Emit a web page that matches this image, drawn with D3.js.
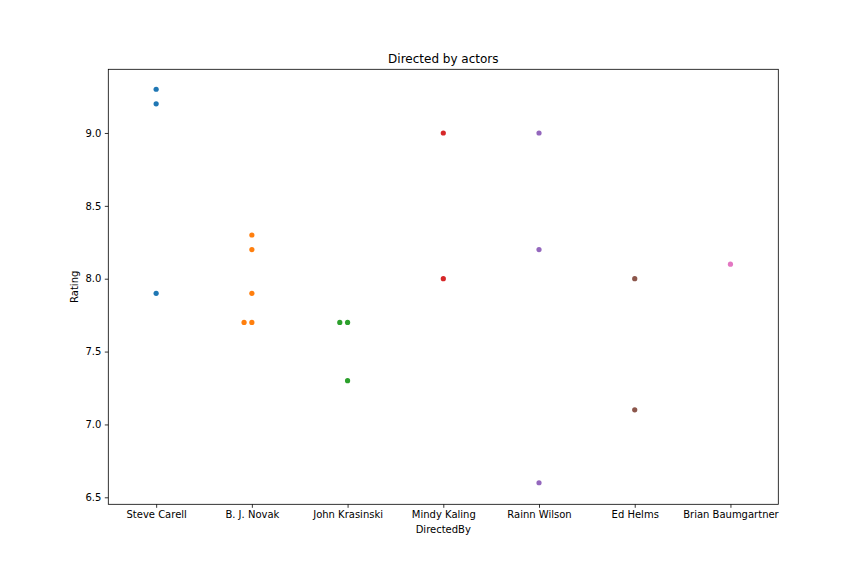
<!DOCTYPE html>
<html><head><meta charset="utf-8">
<script src="https://cdn.jsdelivr.net/npm/d3@7"></script>
<style>body{margin:0;background:#fff}svg{display:block}text{font-family:"DejaVu Sans",sans-serif;fill:#000}</style>
</head><body>
<svg id="c" width="864" height="576"></svg>
<script>
const categories = ["Steve Carell","B. J. Novak","John Krasinski","Mindy Kaling","Rainn Wilson","Ed Helms","Brian Baumgartner"];
const steveCarell = [9.3, 9.2, 7.9];
const bjNovak = [8.3, 8.2, 7.9, 7.7, 7.7];
const johnKrasinski = [7.7, 7.7, 7.3];
const mindyKaling = [9.0, 8.0];
const rainnWilson = [9.0, 8.2, 6.6];
const edHelms = [8.0, 7.1];
const brianBaumgartner = [8.1];
const yTicks = [6.5, 7.0, 7.5, 8.0, 8.5, 9.0];
const colors = ["#1f77b4","#ff7f0e","#2ca02c","#d62728","#9467bd","#8c564b","#e377c2"];
const series = [steveCarell,bjNovak,johnKrasinski,mindyKaling,rainnWilson,edHelms,brianBaumgartner];

const L=108.3, R=778.3, T=69.3, B=504.3;
const svg = d3.select("#c");
const x = d3.scaleLinear().domain([-0.5, categories.length-0.5]).range([L,R]);
const y = d3.scaleLinear().domain([6.452, 9.437]).range([B,T]);
const rad = 2.6;

// swarm placement
const pts = [];
series.forEach((vals,i)=>{
  const placed=[];
  vals.forEach(v=>{
    const cy=y(v), cx0=x(i);
    const cands=[0];
    for(let k=1;k<20;k++){cands.push(-k*0.5);cands.push(k*0.5);}
    let best=cx0;
    for(const c of cands){
      const cx=cx0+c*2*rad*1.0;
      if(placed.every(p=>Math.hypot(p[0]-cx,p[1]-cy)>=2*rad)){best=cx;break;}
    }
    placed.push([best,cy]);
    pts.push({cx:best,cy:cy,c:colors[i]});
  });
});

svg.append("g").selectAll("circle").data(pts).join("circle")
  .attr("cx",d=>d.cx).attr("cy",d=>d.cy).attr("r",rad).attr("fill",d=>d.c);

const gx = svg.append("g").attr("transform",`translate(0,${B})`)
  .call(d3.axisBottom(x).tickValues(d3.range(categories.length)).tickFormat(i=>categories[i]).tickSizeOuter(0).tickSize(3.5).tickPadding(3.5));
const gy = svg.append("g").attr("transform",`translate(${L},0)`)
  .call(d3.axisLeft(y).tickValues(yTicks).tickFormat(d3.format(".1f")).tickSizeOuter(0).tickSize(3.5).tickPadding(3.5));
[gx,gy].forEach(g=>{g.select(".domain").remove();g.selectAll("line").attr("stroke","#000").attr("stroke-width",0.8);g.selectAll("text").attr("font-size",10).attr("font-family","DejaVu Sans");});

svg.append("rect").attr("x",L).attr("y",T).attr("width",R-L).attr("height",B-T)
  .attr("fill","none").attr("stroke","#000").attr("stroke-width",0.8);

svg.append("text").attr("x",(L+R)/2).attr("y",T-6).attr("text-anchor","middle").attr("font-size",12).text("Directed by actors");
svg.append("text").attr("x",(L+R)/2).attr("y",B+29).attr("text-anchor","middle").attr("font-size",10).text("DirectedBy");
svg.append("text").attr("transform",`translate(${L-30},${(T+B)/2}) rotate(-90)`).attr("text-anchor","middle").attr("font-size",10).text("Rating");
</script>
</body></html>
